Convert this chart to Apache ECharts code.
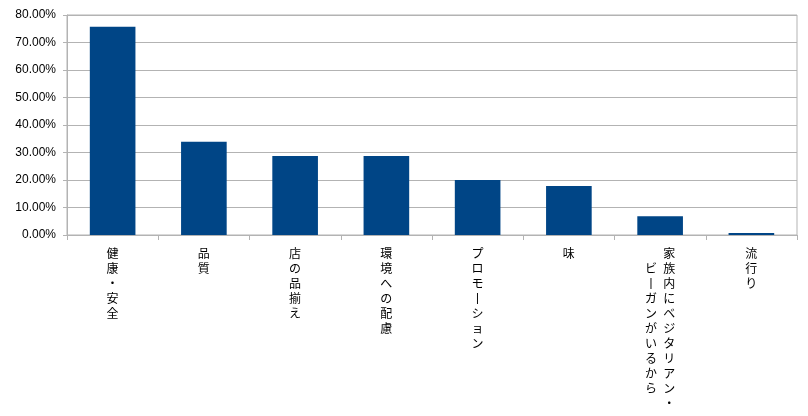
<!DOCTYPE html>
<html>
<head>
<meta charset="utf-8">
<script src="https://cdn.jsdelivr.net/npm/echarts@6/dist/echarts.min.js"></script>
<style>
html,body{margin:0;padding:0;background:#fff;}
#chart{width:808px;height:416px;}
</style>
</head>
<body>
<div id="chart"></div>
<script>
const categories = ['健康・安全', '品質', '店の品揃え', '環境への配慮', 'プロモーション', '味', '家族内にベジタリアン・ビーガンがいるから', '流行り'];
const values = [75.7, 33.9, 28.7, 28.7, 20.0, 17.8, 6.8, 0.7];
const yTicks = [0, 10, 20, 30, 40, 50, 60, 70, 80];

function verticalize(name) {
  const chars = Array.from(name).map(c => c === 'ー' ? '丨' : c);
  const colLen = 11;
  if (chars.length <= colLen) return chars.join('\n');
  const c1 = chars.slice(0, colLen);
  const c2 = chars.slice(colLen);
  const pad = Math.floor((c1.length - c2.length) / 2);
  const lines = [];
  for (let i = 0; i < c1.length; i++) {
    const j = i - pad;
    const left = (j >= 0 && j < c2.length) ? c2[j] : '\u3000';
    lines.push(left + '\u2002' + c1[i]);
  }
  return lines.join('\n');
}

const chart = echarts.init(document.getElementById('chart'), null, {renderer: 'canvas'});
chart.setOption({
  animation: false,
  backgroundColor: '#fff',
  grid: {left: 67, right: 11, top: 15, bottom: 181, show: true, borderColor: '#b3b3b3', borderWidth: 1},
  xAxis: {
    type: 'category',
    data: categories,
    boundaryGap: true,
    axisLine: {show: true, lineStyle: {color: '#b3b3b3'}},
    axisTick: {show: true, length: 5, alignWithLabel: false, lineStyle: {color: '#b3b3b3'}},
    axisLabel: {
      interval: 0,
      margin: 11,
      color: '#000',
      fontFamily: '"Noto Sans CJK JP"',
      fontSize: 12,
      lineHeight: 15,
      verticalAlign: 'top',
      formatter: verticalize
    }
  },
  yAxis: {
    type: 'value',
    min: yTicks[0],
    max: yTicks[yTicks.length - 1],
    interval: yTicks[1] - yTicks[0],
    axisLine: {show: true, lineStyle: {color: '#b3b3b3'}},
    axisTick: {show: true, length: 4, lineStyle: {color: '#b3b3b3'}},
    splitLine: {show: true, lineStyle: {color: '#b3b3b3', width: 1}},
    axisLabel: {
      margin: 11,
      color: '#000',
      fontFamily: '"Liberation Sans", Arial, sans-serif',
      fontSize: 12,
      formatter: v => v.toFixed(2) + '%'
    }
  },
  series: [{
    type: 'bar',
    data: values,
    barWidth: '50%',
    itemStyle: {color: '#004586'}
  }]
});
</script>
</body>
</html>
